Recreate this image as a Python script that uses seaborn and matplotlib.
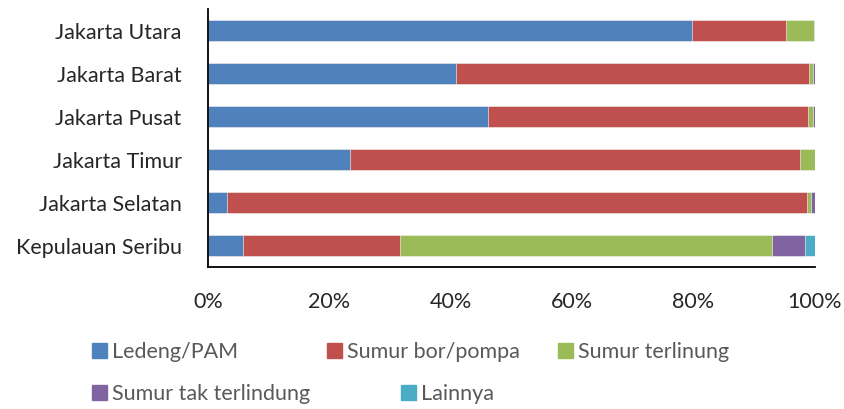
import numpy as np
import pandas as pd
import matplotlib
matplotlib.use('Agg')
import matplotlib.pyplot as plt
import matplotlib.patches as mpatches
import seaborn as sns

# data (percent of households)
wilayah = ['Jakarta Utara', 'Jakarta Barat', 'Jakarta Pusat',
           'Jakarta Timur', 'Jakarta Selatan', 'Kepulauan Seribu']
ledeng = [79.7, 40.8, 46.2, 23.4, 3.1, 5.7]
sumur_bor = [15.5, 58.2, 52.7, 74.1, 95.6, 26.0]
sumur_terlindung = [4.6, 0.7, 0.8, 2.5, 0.7, 61.2]
sumur_tak = [0.0, 0.3, 0.3, 0.0, 0.6, 5.5]
lainnya = [0.2, 0.0, 0.0, 0.0, 0.0, 1.6]

sumber = ['Ledeng/PAM', 'Sumur bor/pompa', 'Sumur terlinung',
          'Sumur tak terlindung', 'Lainnya']
warna = ['#4F81BD', '#C0504D', '#9BBB59', '#8064A2', '#4BACC6']

df = pd.DataFrame({'wilayah': wilayah, 'Ledeng/PAM': ledeng,
                   'Sumur bor/pompa': sumur_bor, 'Sumur terlinung': sumur_terlindung,
                   'Sumur tak terlindung': sumur_tak, 'Lainnya': lainnya})
vals = df[sumber].to_numpy()
df[sumber] = vals / vals.sum(axis=1, keepdims=True) * 100
cum = df[sumber].cumsum(axis=1)

sns.set_style('white')
plt.rcParams['font.family'] = ['Lato', 'DejaVu Sans']

fig = plt.figure(figsize=(8.44, 4.09), dpi=100)
ax = fig.add_axes([0.2465, 0.347, 0.719, 0.631])

# stacked bars: draw cumulative totals from the last series back to the first
for s, c in reversed(list(zip(sumber, warna))):
    sns.barplot(x=cum[s], y=df['wilayah'], color=c, orient='h', width=0.48,
                saturation=1, edgecolor='white', linewidth=0.4, ax=ax)

ax.set_xlim(0, 100)
ax.set_ylim(5.5, -0.5)
ax.set_xticks([0, 20, 40, 60, 80, 100])
ax.set_xticklabels(['0%', '20%', '40%', '60%', '80%', '100%'], fontsize=15.5)
ax.tick_params(axis='y', labelsize=15.5, length=0, pad=19)
ax.tick_params(axis='x', length=0, pad=18)
ax.set_xlabel('')
ax.set_ylabel('')
for side in ['top', 'right']:
    ax.spines[side].set_visible(False)
for side in ['left', 'bottom']:
    ax.spines[side].set_color('black')
    ax.spines[side].set_linewidth(1.3)

# legend entries laid out like the original (free flowing rows)
pos = [(0.109, 0.140), (0.387, 0.140), (0.661, 0.140), (0.109, 0.037), (0.475, 0.037)]
for s, c, (x, y) in zip(sumber, warna, pos):
    h = mpatches.Patch(color=c, label=s)
    fig.legend(handles=[h], loc='center left', bbox_to_anchor=(x, y), frameon=False,
               fontsize=15.5, handlelength=0.7, handleheight=0.7, handletextpad=0.25,
               borderpad=0, borderaxespad=0, labelcolor='#595959')

fig.savefig('out.png', dpi=100)
